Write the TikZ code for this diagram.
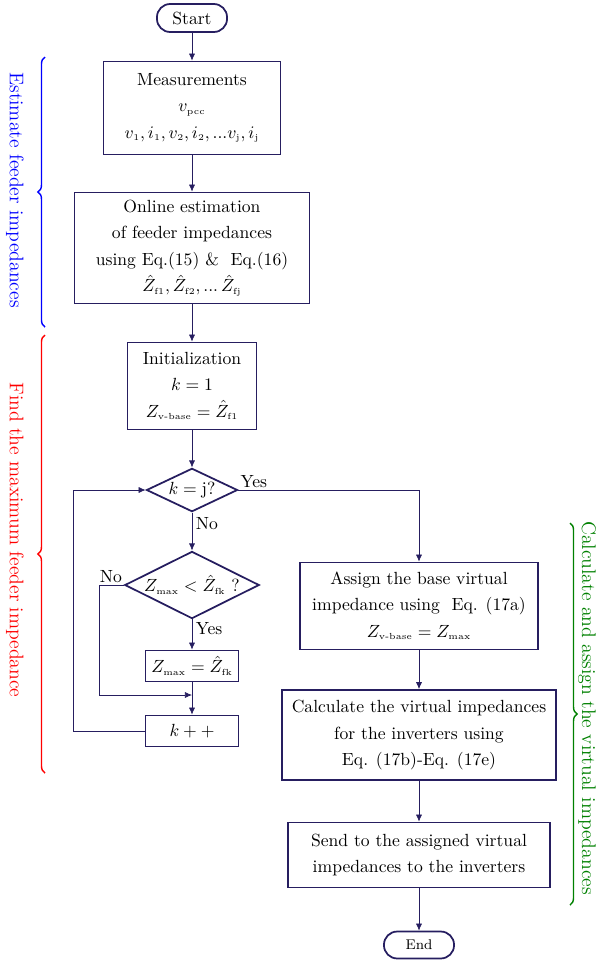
\documentclass[tikz,border=0pt]{standalone}
\usepackage{amsmath}
\usetikzlibrary{shapes.geometric,arrows.meta,decorations.pathreplacing}
\definecolor{navy}{RGB}{38,30,96}
\definecolor{dgreen}{RGB}{0,128,0}
\newcommand{\sbs}[1]{_{\mbox{\tiny #1}}}
\begin{document}
\begin{tikzpicture}[x=0.568pt,y=-0.568pt,
  box/.style={rectangle,draw=navy,line width=1pt,align=center,inner sep=1pt,font=\linespread{1.25}\selectfont},
  term/.style={rectangle,rounded corners=7.5pt,draw=navy,line width=1pt,minimum width=39.8pt},
  decision/.style={diamond,draw=navy,line width=1pt,aspect=2.1,inner sep=1pt},
  line/.style={draw=navy,-{Latex[length=4pt,width=3.5pt]}},
  bracelabel/.style={rotate=-90,font=\fontsize{11.2}{13}\selectfont}]
\useasboundingbox (0,0) rectangle (597,960);
% left column
\node[term,minimum height=15.9pt] (start) at (192,18) {Start};
\node[box,minimum width=100.5pt,minimum height=52.8pt] (meas) at (192,108) {Measurements\\ $v\sbs{pcc}$\\ $v\sbs{1},i\sbs{1},v\sbs{2},i\sbs{2},...v\sbs{j},i\sbs{j}$};
\node[box,minimum width=133.5pt,minimum height=63pt] (est) at (192,248) {Online estimation\\ of feeder impedances\\ using Eq.(15) \&\ \ Eq.(16)\\ $\hat{Z}\sbs{f1},\hat{Z}\sbs{f2},...\,\hat{Z}\sbs{fj}$};
\node[box,minimum width=73.3pt,minimum height=49.4pt] (init) at (192,386) {Initialization\\ $k=1$\\ $Z\sbs{v-base}=\hat{Z}\sbs{f1}$};
\node[decision] (dec1) at (192,490) {$k=\mathrm{j}$?};
\node[decision,aspect=2,inner sep=0pt] (dec2) at (192,585) {$Z\sbs{max}<\hat{Z}\sbs{fk}$ ?};
\node[box,minimum width=52.8pt,minimum height=17.6pt] (upd) at (192,666) {$Z\sbs{max}=\hat{Z}\sbs{fk}$};
\node[box,minimum width=52.8pt,minimum height=17.6pt] (inc) at (192,731) {$k++$};
% right column
\node[box,minimum width=135.2pt,minimum height=49.4pt] (assign) at (419,606) {Assign the base virtual\\ impedance using\ \ Eq. (17a)\\ $Z\sbs{v-base}=Z\sbs{max}$};
\node[box,minimum width=155.6pt,minimum height=51.1pt] (calc) at (419,735) {Calculate the virtual impedances\\ for the inverters using\\ Eq. (17b)-Eq. (17e)};
\node[box,minimum width=148.8pt,minimum height=36.9pt] (send) at (419,855) {Send to the assigned virtual\\ impedances to the inverters};
\node[term,minimum height=15.3pt,font=\footnotesize] (end) at (419,945) {End};
% connectors
\coordinate (join) at (192,695);
\draw[line] (start) -- (meas);
\draw[line] (meas) -- (est);
\draw[line] (est) -- (init);
\draw[line] (init) -- (dec1);
\draw[line] (dec1) -- node[pos=0.3,right,inner sep=2pt]{No} (dec2);
\draw[line] (dec2) -- node[pos=0.3,right,inner sep=2pt]{Yes} (upd);
\draw[line] (upd) -- (inc);
\draw[line] (dec2.west) -- (99,585) |- (join);
\node[above left,inner sep=1pt] at (dec2.west) {No};
\draw[line] (inc.west) -- (73,731) |- (dec1.west);
\draw[line] (dec1.east) -| (assign.north);
\node[above right,inner sep=1pt] at (dec1.east) {Yes};
\draw[line] (assign) -- (calc);
\draw[line] (calc) -- (send);
\draw[line] (send) -- (end);
% braces
\draw[blue,thick,decorate,decoration={brace,amplitude=4pt}] (45,327) -- (45,57);
\node[bracelabel,blue] at (15,190) {Estimate feeder impedances};
\draw[red,thick,decorate,decoration={brace,amplitude=4pt}] (45,773) -- (45,335);
\node[bracelabel,red] at (15,540) {Find the maximum feeder impedance};
\draw[dgreen,thick,decorate,decoration={brace,amplitude=4pt}] (570,523) -- (570,905);
\node[bracelabel,dgreen] at (587,708) {Calculate and assign the virtual impedances};
\end{tikzpicture}
\end{document}
